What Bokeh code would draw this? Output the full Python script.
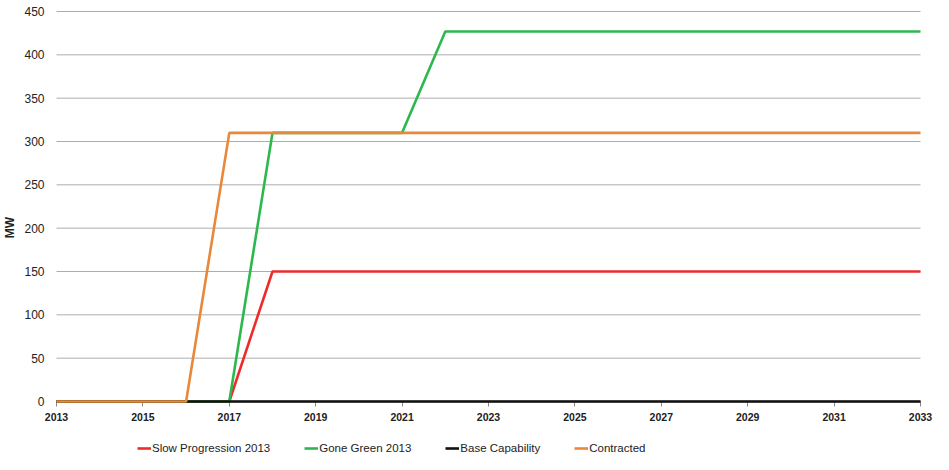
from bokeh.plotting import figure
from bokeh.models import Range1d, Legend, LegendItem, FixedTicker, ColumnDataSource
from bokeh.embed import file_html
from bokeh.resources import INLINE

years = list(range(2013, 2034))
slow_progression = [0, 0, 0, 0, 0, 150, 150, 150, 150, 150, 150, 150, 150, 150, 150, 150, 150, 150, 150, 150, 150]
gone_green = [0, 0, 0, 0, 0, 310, 310, 310, 310, 427, 427, 427, 427, 427, 427, 427, 427, 427, 427, 427, 427]
base_capability = [0] * 21
contracted = [0, 0, 0, 0, 310, 310, 310, 310, 310, 310, 310, 310, 310, 310, 310, 310, 310, 310, 310, 310, 310]
x_ticks = list(range(2013, 2034, 2))
y_ticks = list(range(0, 451, 50))

FONT = "Liberation Sans"

# Layout (pixels): the frame covers the whole figure; axes are pinned inside it
W, H = 933, 454
LEFT_PX, RIGHT_PX = 56, 920      # x of first / last year
TOP_PX, ZERO_PX = 11, 401        # y of 450 / 0
X0, X1 = years[0], years[-1]
Y1 = y_ticks[-1]
xs = (RIGHT_PX - LEFT_PX) / (X1 - X0)
ys = (ZERO_PX - TOP_PX) / Y1
x_range = Range1d(X0 - LEFT_PX / xs, X1 + (W - RIGHT_PX) / xs)
y_range = Range1d(-(H - ZERO_PX) / ys, Y1 + TOP_PX / ys)

p = figure(width=W, height=H, output_backend="svg", toolbar_location=None,
           x_range=x_range, y_range=y_range,
           min_border_left=0, min_border_right=0, min_border_top=0, min_border_bottom=0)
p.outline_line_color = None
p.background_fill_color = "white"

# horizontal gridlines limited to the plot area
p.xgrid.visible = False
p.ygrid.visible = False
p.segment(x0=[X0] * len(y_ticks), x1=[X1] * len(y_ticks), y0=y_ticks, y1=y_ticks,
          line_color="#ADADAD", line_width=1)

src = ColumnDataSource(dict(x=years, sp=slow_progression, gg=gone_green, bc=base_capability, ct=contracted))
lw = 2.6
r1 = p.line("x", "sp", source=src, line_color="#EE2B2B", line_width=lw, level="overlay")
r2 = p.line("x", "gg", source=src, line_color="#2DB84E", line_width=lw, level="overlay")
r3 = p.line("x", "bc", source=src, line_color="#111111", line_width=lw, level="overlay")
r4 = p.line("x", "ct", source=src, line_color="#E8883A", line_width=lw, level="overlay")

xa = p.xaxis[0]
xa.fixed_location = 0
xa.bounds = (X0, X1)
xa.ticker = FixedTicker(ticks=x_ticks)
xa.axis_line_color = "#444444"
xa.axis_line_width = 1.5
xa.major_tick_line_color = "#888888"
xa.major_tick_out = 5
xa.major_tick_in = 0
xa.minor_tick_line_color = None
xa.major_label_text_font = FONT
xa.major_label_text_font_style = "bold"
xa.major_label_text_font_size = "10.5px"
xa.major_label_text_color = "#222222"
xa.major_label_standoff = 6

ya = p.yaxis[0]
ya.fixed_location = X0
ya.ticker = FixedTicker(ticks=y_ticks)
ya.axis_line_color = None
ya.major_tick_line_color = None
ya.major_tick_out = 0
ya.major_tick_in = 0
ya.minor_tick_line_color = None
ya.minor_tick_out = 0
ya.major_label_text_font = FONT
ya.major_label_text_font_size = "12px"
ya.major_label_text_color = "#222222"
ya.major_label_standoff = 12
ya.axis_label = "MW"
ya.axis_label_text_font = FONT
ya.axis_label_text_font_size = "12px"
ya.axis_label_text_font_style = "bold"
ya.axis_label_text_color = "#222222"
ya.axis_label_standoff = 4

legend = Legend(items=[
    LegendItem(label="Slow Progression 2013", renderers=[r1]),
    LegendItem(label="Gone Green 2013", renderers=[r2]),
    LegendItem(label="Base Capability", renderers=[r3]),
    LegendItem(label="Contracted", renderers=[r4]),
], orientation="horizontal", location=(137, 0), spacing=34,
    glyph_width=14, glyph_height=12, label_standoff=1, padding=0, margin=0,
    label_height=12,
    border_line_color=None, background_fill_alpha=0,
    label_text_font=FONT, label_text_font_size="11.5px", label_text_color="#222222")
p.add_layout(legend, "center")

open("out.html", "w").write(file_html(p, INLINE))
